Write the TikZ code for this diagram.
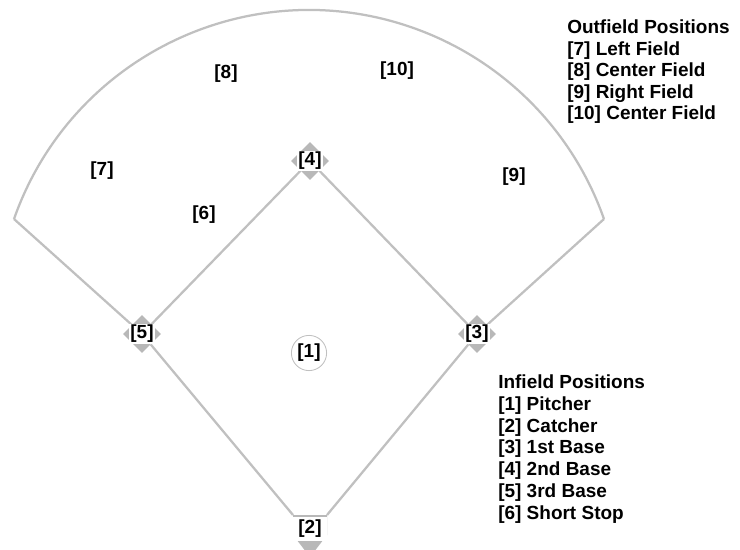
\documentclass[tikz,border=0pt]{standalone}
\usepackage{fontspec}
\setmainfont{Liberation Sans}
\usetikzlibrary{shapes.geometric}
\definecolor{chalk}{RGB}{192,192,192}
\definecolor{bagfill}{RGB}{184,184,184}

\begin{document}
\begin{tikzpicture}[x=0.025cm,y=-0.025cm,
        foul/.style={chalk,line width=1.6pt},
        bag/.style={diamond,fill=bagfill,inner sep=0pt,minimum width=0.95cm,minimum height=0.95cm},
        tag/.style={fill=white,inner sep=0pt,minimum width=0.65cm,minimum height=0.5cm,font=\fontsize{13.5}{16}\selectfont\bfseries},
        spot/.style={inner sep=0pt,font=\fontsize{13.5}{16}\selectfont\bfseries},
        legend/.style={anchor=base west,inner sep=0pt,font=\fontsize{13.5}{16}\selectfont\bfseries}]
        \useasboundingbox (0,0) rectangle (740,550);
        \clip (0,0) rectangle (740,550);
        \fill[white] (0,0) rectangle (740,550);
        % bases
        \node[bag] (second) at (310,161) {};
        \node[bag] (third) at (142,334) {};
        \node[bag] (first) at (477,334) {};
        \coordinate (hpl) at (293,515);
        \coordinate (hpr) at (327,515);
        \coordinate (lfc) at (14,219);
        \coordinate (rfc) at (604,219);
        \fill[bagfill] (hpl) -- (hpr) -- (327,535) -- (310,557) -- (293,535) -- cycle;
        % lines
        \draw[foul] (third) -- (second);
        \draw[foul] (second) -- (first);
        \draw[foul] (third) -- (hpl);
        \draw[foul] (first) -- (hpr);
        \draw[foul] (third) -- (lfc);
        \draw[foul] (first) -- (rfc);
        \draw[foul] (lfc) arc[start angle=199.37, end angle=340.63, radius=312.7];
        % positions
        \node[draw=chalk,line width=0.6pt,circle,minimum size=0.88cm,spot] (pitcher) at (309,353) {[1]};
        \node[tag,minimum width=0.85cm,minimum height=0.6cm] (catcher) at (310,529) {[2]};
        \node[tag] (firstbase) at (first) {[3]};
        \node[tag] (secondbase) at (second) {[4]};
        \node[tag] (thirdbase) at (third) {[5]};
        \node[spot] (shortstop) at (204,215) {[6]};
        \node[spot] (leftfield) at (102,171) {[7]};
        \node[spot] (centerfield) at (226,74) {[8]};
        \node[spot] (rightfield) at (514,177) {[9]};
        \node[spot] (centerfield2) at (397,71) {[10]};
        % legends
        \node[legend] (outhead) at (567,34) {Outfield Positions};
        \node[legend] (out7) at (567,55.5) {[7] Left Field};
        \node[legend] (out8) at (567,77) {[8] Center Field};
        \node[legend] (out9) at (567,98.5) {[9] Right Field};
        \node[legend] (out10) at (567,120) {[10] Center Field};
        \node[legend] (inhead) at (498,388) {Infield Positions};
        \node[legend] (in1) at (498,410) {[1] Pitcher};
        \node[legend] (in2) at (498,432) {[2] Catcher};
        \node[legend] (in3) at (498,453.5) {[3] 1st Base};
        \node[legend] (in4) at (498,475) {[4] 2nd Base};
        \node[legend] (in5) at (498,497) {[5] 3rd Base};
        \node[legend] (in6) at (498,519) {[6] Short Stop};
\end{tikzpicture}
\end{document}
